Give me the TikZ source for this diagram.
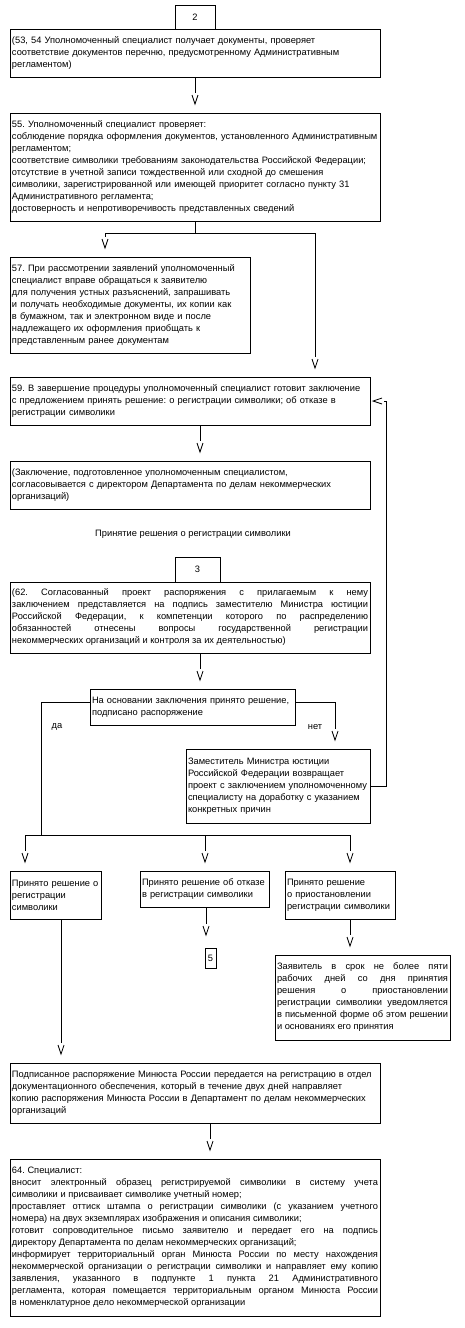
\documentclass[tikz,border=0pt]{standalone}
\usepackage{fontspec}
\setmainfont{Liberation Sans}
\usetikzlibrary{calc,arrows.meta}
\hbadness=10000
\tolerance=10000
\frenchspacing
\pgfdeclarearrow{
  name = VTip,
  setup code = {
    \pgfarrowssettipend{9pt}
    \pgfarrowssetlineend{-2pt}
    \pgfarrowssetbackend{-2pt}
    \pgfarrowssetvisualbackend{0pt}
    \pgfarrowshullpoint{9pt}{0pt}
    \pgfarrowshullpoint{0pt}{3pt}
    \pgfarrowshullpoint{0pt}{-3pt}
  },
  drawing code = {
    \pgfpathmoveto{\pgfqpoint{0pt}{3pt}}
    \pgfpathlineto{\pgfqpoint{9pt}{0pt}}
    \pgfpathlineto{\pgfqpoint{0pt}{-3pt}}
    \pgfusepathqstroke
  }
}
\tikzset{
  box/.style={draw, line width=0.8pt, anchor=north west, inner xsep=2pt, inner ysep=1pt, outer sep=0pt, align=left, font=\fontsize{9.3}{12}\selectfont\frenchspacing},
  jbox/.style={box, align=justify},
  conn/.style={line width=0.8pt, -VTip},
  plain/.style={line width=0.8pt},
  lbl/.style={font=\fontsize{9.3}{12}\selectfont, inner sep=0pt},
}
\begin{document}
\begin{tikzpicture}[x=1pt,y=-1pt]
\useasboundingbox[fill=white] (0,0) rectangle (465,1328);

\node[box, minimum width=40pt, minimum height=24pt, align=center] (n2) at (175,5) {2};
\node[box, minimum width=370pt, minimum height=48pt, text width=366pt] (A) at (10,29)
{(53, 54 Уполномоченный специалист получает документы, проверяет\\
соответствие документов перечню, предусмотренному Административным\\
регламентом)};

\node[box, minimum width=370pt, minimum height=108pt, text width=366pt] (B) at (10,113)
{55. Уполномоченный специалист проверяет:\\
соблюдение порядка оформления документов, установленного Административным\\
регламентом;\\
соответствие символики требованиям законодательства Российской Федерации;\\
отсутствие в учетной записи тождественной или сходной до смешения\\
символики, зарегистрированной или имеющей приоритет согласно пункту 31\\
Административного регламента;\\
достоверность и непротиворечивость представленных сведений};

\node[box, minimum width=240pt, minimum height=96pt, text width=236pt] (C) at (10,257)
{57. При рассмотрении заявлений уполномоченный\\
специалист вправе обращаться к заявителю\\
для получения устных разъяснений, запрашивать\\
и получать необходимые документы, их копии как\\
в бумажном, так и электронном виде и после\\
надлежащего их оформления приобщать к\\
представленным ранее документам};

\node[box, minimum width=360pt, minimum height=48pt, text width=356pt] (D) at (10,377)
{59. В завершение процедуры уполномоченный специалист готовит заключение\\
с предложением принять решение: о регистрации символики; об отказе в\\
регистрации символики};

\node[box, minimum width=360pt, minimum height=48pt, text width=356pt] (E) at (10,461)
{(Заключение, подготовленное уполномоченным специалистом,\\
согласовывается с директором Департамента по делам некоммерческих\\
организаций)};

\node[lbl] (title) at (193,534) {Принятие решения о регистрации символики};

\node[box, minimum width=45pt, minimum height=25pt, align=center] (n3) at (175,557) {3};
\node[jbox, minimum width=360pt, minimum height=71pt, text width=356pt] (G) at (10,582)
{(62. Согласованный проект распоряжения с прилагаемым к нему\linebreak
заключением представляется на подпись заместителю Министра юстиции\linebreak
Российской Федерации, к компетенции которого по распределению\linebreak
обязанностей отнесены вопросы государственной регистрации\linebreak
некоммерческих организаций и контроля за их деятельностью)};

\node[box, minimum width=205pt, minimum height=36pt, text width=201pt] (H) at (90,689)
{На основании заключения принято решение,\\
подписано распоряжение};

\node[lbl] (da) at (57,727) {да};
\node[lbl] (net) at (315,727) {нет};

\node[box, minimum width=184pt, minimum height=74pt, text width=180pt] (F) at (186,749)
{Заместитель Министра юстиции\\
Российской Федерации возвращает\\
проект с заключением уполномоченному\\
специалисту на доработку с указанием\\
конкретных причин};

\node[box, minimum width=91pt, minimum height=48pt, text width=87pt] (I) at (10,871)
{Принято решение о\\
регистрации\\
символики};

\node[box, minimum width=129pt, minimum height=36pt, text width=125pt] (J) at (140,871)
{Принято решение об отказе\\
в регистрации символики};

\node[box, minimum width=110pt, minimum height=48pt, text width=106pt] (K) at (285,871)
{Принято решение\\
о приостановлении\\
регистрации символики};

\node[box, minimum width=11pt, minimum height=20pt, inner xsep=1pt, align=center] (n5) at (205,948) {5};

\node[jbox, minimum width=175pt, minimum height=85pt, text width=171pt] (L) at (275,955)
{Заявитель в срок не более пяти\linebreak
рабочих дней со дня принятия\linebreak
решения о приостановлении\linebreak
регистрации символики уведомляется\linebreak
в письменной форме об этом решении\linebreak
и основаниях его принятия};

\node[box, minimum width=370pt, minimum height=60pt, text width=366pt] (M) at (10,1063)
{Подписанное распоряжение Минюста России передается на регистрацию в отдел\\
документационного обеспечения, который в течение двух дней направляет\\
копию распоряжения Минюста России в Департамент по делам некоммерческих\\
организаций};

\node[jbox, minimum width=370pt, minimum height=157pt, text width=366pt] (N) at (10,1159)
{64. Специалист:\newline
вносит электронный образец регистрируемой символики в систему учета\linebreak
символики и присваивает символике учетный номер;\newline
проставляет оттиск штампа о регистрации символики (с указанием учетного\linebreak
номера) на двух экземплярах изображения и описания символики;\newline
готовит сопроводительное письмо заявителю и передает его на подпись\linebreak
директору Департамента по делам некоммерческих организаций;\newline
информирует территориальный орган Минюста России по месту нахождения\linebreak
некоммерческой организации о регистрации символики и направляет ему копию\linebreak
заявления, указанного в подпункте 1 пункта 21 Административного\linebreak
регламента, которая помещается территориальным органом Минюста России\linebreak
в номенклатурное дело некоммерческой организации};

% connectors
\draw[conn] (A.south) -- ($(B.north)+(0,-9)$);
\draw[plain] (B.south) -- (195,233) coordinate (s1);
\draw[conn] (s1) -| ($(C.north)+(-25,-9)$);
\draw[conn] (s1) -| ($(D.north)+(125,-9)$);
\draw[conn] ($(D.south)+(10,0)$) -- ($(E.north)+(10,-9)$);
\draw[conn] ($(G.south)+(10,0)$) -- ($(H.north)+(7.5,-9)$);
\draw[conn] ($(H.north east)+(0,13)$) -| ($(F.north)+(57,-9)$);
\draw[conn] (F.east) -- ++(16,0) |- ($(D.east)+(3,0)$);
\draw[plain] ($(H.north west)+(0,13)$) -| (41,835) coordinate (s2);
\draw[plain] (25,835) coordinate (b1) -- (350,835) coordinate (b3);
\draw[conn] (b1) -- ($(I.north)+(-30.5,-9)$);
\draw[conn] (205,835) coordinate (b2) -- ($(J.north)+(0.5,-9)$);
\draw[conn] (b3) -- ($(K.north)+(10,-9)$);
\draw[conn] ($(J.south)+(1.5,0)$) -- ($(n5.north west)+(1,-13)$);
\draw[conn] ($(K.south)+(10,0)$) -- ($(L.north)+(-12.5,-9)$);
\draw[conn] ($(I.south)+(5.5,0)$) -- ($(M.north)+(-134,-9)$);
\draw[conn] ($(M.south)+(15,0)$) -- ($(N.north)+(15,-9)$);
\end{tikzpicture}
\end{document}
